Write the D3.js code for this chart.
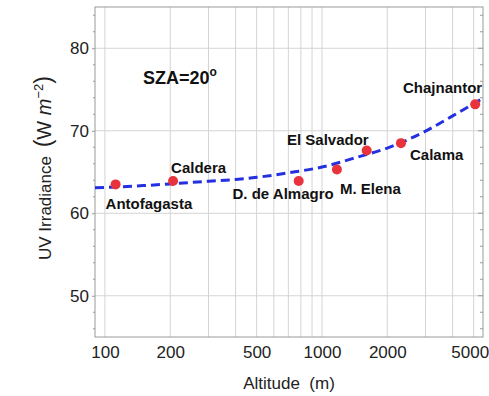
<!DOCTYPE html>
<html>
<head>
<meta charset="utf-8">
<script src="https://cdn.jsdelivr.net/npm/d3@7"></script>
<style>
  html, body { margin: 0; padding: 0; background: #fff; }
  svg { display: block; font-family: "Liberation Sans", Arial, Helvetica, sans-serif; }
</style>
</head>
<body>
<svg id="chart" width="489" height="396"></svg>
<script>
// Measured sites: altitude (m) and UV irradiance (W m^-2)
const sites = ["Antofagasta", "Caldera", "D. de Almagro", "M. Elena", "El Salvador", "Calama", "Chajnantor"];
const altitudes = [112, 206, 781, 1172, 1607, 2312, 5080];
const irradiance = [63.5, 63.9, 63.9, 65.3, 67.6, 68.5, 73.2];

// Fitted curve, sampled along altitude
const fitAltitudes = [90, 150, 200, 300, 400, 500, 700, 1000, 1500, 2000, 3000, 4000, 5520];
const fitIrradiance = [63.08, 63.35, 63.56, 63.88, 64.1, 64.35, 64.9, 65.6, 66.9, 67.9, 69.95, 71.8, 73.95];

// Axis ticks
const xTickLabels = [100, 200, 500, 1000, 2000, 5000];
const xGrid = [100, 200, 300, 400, 500, 600, 700, 800, 900, 1000, 2000, 3000, 4000, 5000];
const yTickLabels = [50, 60, 70, 80];
const yMinor = [46, 48, 52, 54, 56, 58, 62, 64, 66, 68, 72, 74, 76, 78, 82, 84];

// Label placement relative to each site's marker
const labelOffset = {
  "Antofagasta":   { dx: -10, dy: 25, anchor: "start" },
  "Caldera":       { dx: -2,  dy: -8, anchor: "start" },
  "D. de Almagro": { dx: 35,  dy: 18, anchor: "end" },
  "M. Elena":      { dx: 3,   dy: 24, anchor: "start" },
  "El Salvador":   { dx: 2,   dy: -6, anchor: "end" },
  "Calama":        { dx: 9,   dy: 17, anchor: "start" },
  "Chajnantor":    { dx: 7,   dy: -11, anchor: "end" }
};

const plot = { left: 95, right: 483, top: 7, bottom: 337 };
const svg = d3.select("#chart");

const x = d3.scaleLog().domain([90, 5520]).range([plot.left, plot.right]);
const y = d3.scaleLinear().domain([45, 85]).range([plot.bottom, plot.top]);

// Grid
const grid = svg.append("g").attr("stroke", "#d4d4d4").attr("stroke-width", 1);
grid.selectAll("line.v").data(xGrid).join("line")
  .attr("class", "v")
  .attr("x1", d => x(d)).attr("x2", d => x(d))
  .attr("y1", plot.top).attr("y2", plot.bottom);
grid.selectAll("line.h").data(yTickLabels).join("line")
  .attr("class", "h")
  .attr("x1", plot.left).attr("x2", plot.right)
  .attr("y1", d => y(d)).attr("y2", d => y(d));

// Frame
svg.append("rect")
  .attr("x", plot.left).attr("y", plot.top)
  .attr("width", plot.right - plot.left).attr("height", plot.bottom - plot.top)
  .attr("fill", "none").attr("stroke", "#9a9a9a").attr("stroke-width", 1);

// Y axis (left) with labels, plus inward ticks on both sides
const yAxisLeft = d3.axisLeft(y).tickValues(yTickLabels).tickSize(3).tickPadding(3).tickFormat(d3.format("d"));
const gyl = svg.append("g").attr("transform", `translate(${plot.left},0)`).call(yAxisLeft);
gyl.select(".domain").remove();
gyl.selectAll(".tick line").attr("stroke", "#9a9a9a");
gyl.selectAll(".tick text").attr("font-size", 17).attr("fill", "#222")
  .attr("font-family", "Liberation Sans, Arial, sans-serif");

const tickG = svg.append("g").attr("stroke", "#9a9a9a").attr("stroke-width", 1);
tickG.selectAll("line.ml").data(yMinor).join("line")
  .attr("x1", plot.left - 2).attr("x2", plot.left)
  .attr("y1", d => y(d)).attr("y2", d => y(d));
tickG.selectAll("line.mr").data(yMinor).join("line")
  .attr("x1", plot.right - 3).attr("x2", plot.right)
  .attr("y1", d => y(d)).attr("y2", d => y(d));
tickG.selectAll("line.Mr").data(yTickLabels).join("line")
  .attr("x1", plot.right - 5).attr("x2", plot.right)
  .attr("y1", d => y(d)).attr("y2", d => y(d));

// X axis labels; the last one is nudged so it stays inside the page
const xAxis = d3.axisBottom(x).tickValues(xTickLabels).tickSize(0).tickPadding(9).tickFormat(d3.format("d"));
const gx = svg.append("g").attr("transform", `translate(0,${plot.bottom})`).call(xAxis);
gx.select(".domain").remove();
gx.selectAll(".tick text").attr("font-size", 17).attr("fill", "#222")
  .attr("font-family", "Liberation Sans, Arial, sans-serif");
gx.selectAll(".tick text").filter(d => d === 5000).attr("dx", -4);

// Axis titles
svg.append("text")
  .attr("x", 289).attr("y", 389)
  .attr("text-anchor", "middle").attr("font-size", 17).attr("fill", "#222")
  .attr("xml:space", "preserve")
  .text("Altitude  (m)");

const yt = svg.append("text")
  .attr("transform", "translate(51,168) rotate(-90)")
  .attr("text-anchor", "middle").attr("font-size", 17).attr("fill", "#222");
yt.append("tspan").text("UV Irradiance ");
yt.append("tspan").attr("font-size", 23).attr("dx", 4).text("(");
yt.append("tspan").attr("font-size", 20).text("W ");
yt.append("tspan").attr("font-size", 20).attr("font-style", "italic").text("m");
yt.append("tspan").attr("font-size", 13).attr("dy", -8).text("\u22122");
yt.append("tspan").attr("font-size", 23).attr("dy", 8).text(")");

// SZA annotation
const sza = svg.append("text")
  .attr("x", 143).attr("y", 84)
  .attr("font-size", 18).attr("font-weight", "bold").attr("fill", "#111");
sza.append("tspan").text("SZA=20");
sza.append("tspan").attr("font-size", 12).attr("dy", -8).text("o");

// Fitted curve
const fit = fitAltitudes.map((a, i) => [a, fitIrradiance[i]]);
svg.append("path")
  .datum(fit)
  .attr("fill", "none")
  .attr("stroke", "#2430e0")
  .attr("stroke-width", 3)
  .attr("stroke-dasharray", "9,5")
  .attr("d", d3.line().x(d => x(d[0])).y(d => y(d[1])).curve(d3.curveMonotoneX));

// Site markers
const pts = sites.map((s, i) => ({ name: s, alt: altitudes[i], val: irradiance[i] }));
svg.append("g").selectAll("circle").data(pts).join("circle")
  .attr("cx", d => x(d.alt)).attr("cy", d => y(d.val))
  .attr("r", 5).attr("fill", "#e8323c");

// Site names
svg.append("g").selectAll("text").data(pts).join("text")
  .attr("x", d => x(d.alt) + labelOffset[d.name].dx)
  .attr("y", d => y(d.val) + labelOffset[d.name].dy)
  .attr("text-anchor", d => labelOffset[d.name].anchor)
  .attr("font-size", 15).attr("font-weight", "bold").attr("fill", "#111")
  .text(d => d.name);
</script>
</body>
</html>
